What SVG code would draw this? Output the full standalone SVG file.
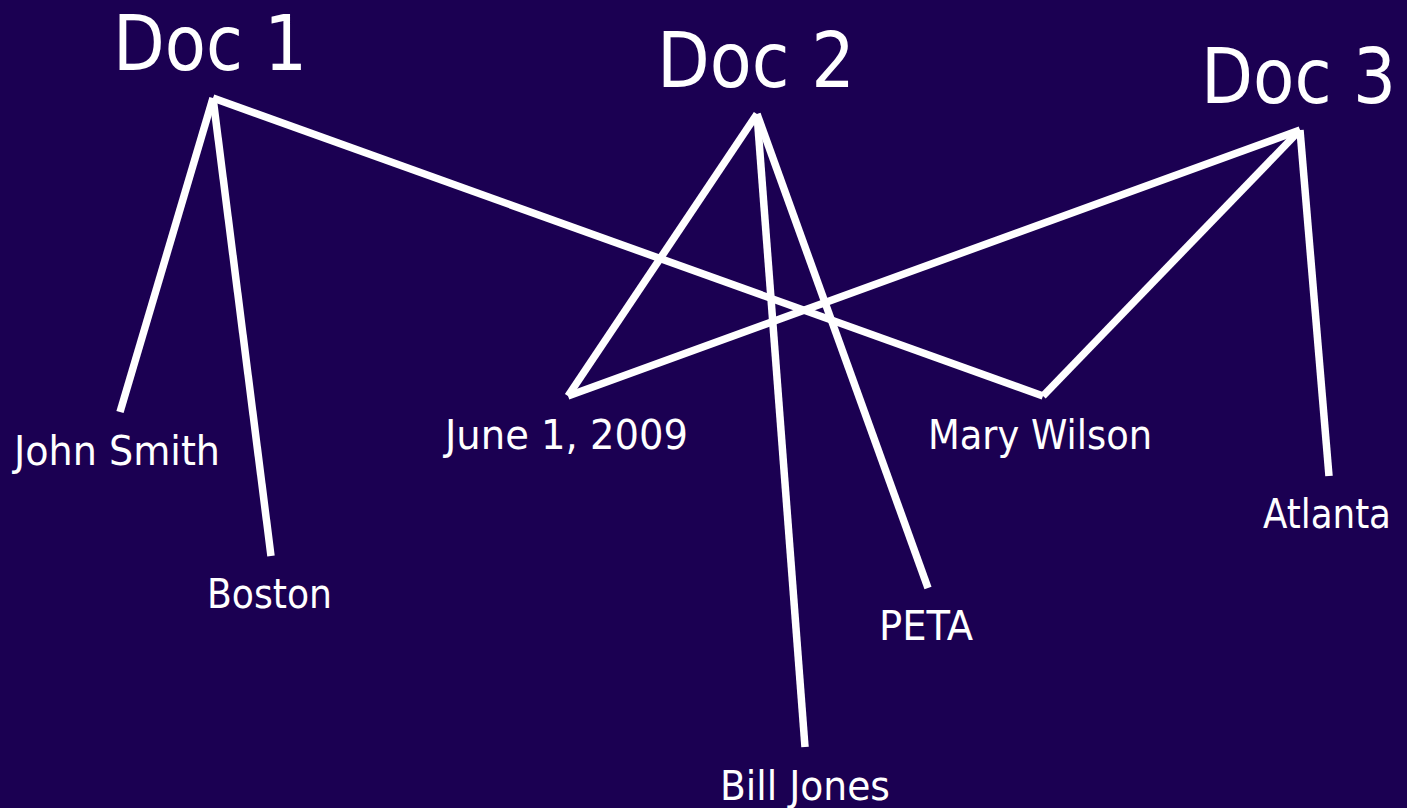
<svg xmlns="http://www.w3.org/2000/svg" width="1407" height="808" viewBox="0 0 1407 808">
<style>
.bg{fill:#1b0052}
.t{fill:#ffffff;font-family:"DejaVu Sans Condensed","DejaVu Sans",sans-serif}
.doc{font-size:77px}
.lbl{font-size:41px}
.c line{stroke:#ffffff;stroke-width:7.5;fill:none}
</style>
<rect class="bg" x="0" y="0" width="1407" height="808"/>
<g id="connectors" class="c">
<line x1="213" y1="98" x2="120" y2="412"/>
<line x1="213" y1="98" x2="271" y2="556"/>
<line x1="213" y1="98" x2="1043" y2="396"/>
<line x1="757" y1="114" x2="568" y2="396"/>
<line x1="757" y1="114" x2="805" y2="747"/>
<line x1="757" y1="114" x2="928" y2="588"/>
<line x1="1300" y1="130" x2="568" y2="396"/>
<line x1="1300" y1="130" x2="1043" y2="396"/>
<line x1="1300" y1="130" x2="1329" y2="476"/>
</g>
<g id="doc1"><text class="t doc" x="113" y="70" textLength="194" lengthAdjust="spacingAndGlyphs">Doc 1</text></g>
<g id="doc2"><text class="t doc" x="657" y="87" textLength="198" lengthAdjust="spacingAndGlyphs">Doc 2</text></g>
<g id="doc3"><text class="t doc" x="1201" y="103" textLength="195" lengthAdjust="spacingAndGlyphs">Doc 3</text></g>
<g id="john-smith"><text class="t lbl" x="14" y="465" textLength="206" lengthAdjust="spacingAndGlyphs">John Smith</text></g>
<g id="boston"><text class="t lbl" x="207" y="608" textLength="125" lengthAdjust="spacingAndGlyphs">Boston</text></g>
<g id="june"><text class="t lbl" x="445" y="449" textLength="243" lengthAdjust="spacingAndGlyphs">June 1, 2009</text></g>
<g id="mary-wilson"><text class="t lbl" x="928" y="449" textLength="224" lengthAdjust="spacingAndGlyphs">Mary Wilson</text></g>
<g id="atlanta"><text class="t lbl" x="1263" y="528" textLength="128" lengthAdjust="spacingAndGlyphs">Atlanta</text></g>
<g id="peta"><text class="t lbl" x="879" y="640" textLength="94" lengthAdjust="spacingAndGlyphs">PETA</text></g>
<g id="bill-jones"><text class="t lbl" x="720" y="800" textLength="170" lengthAdjust="spacingAndGlyphs">Bill Jones</text></g>
</svg>
